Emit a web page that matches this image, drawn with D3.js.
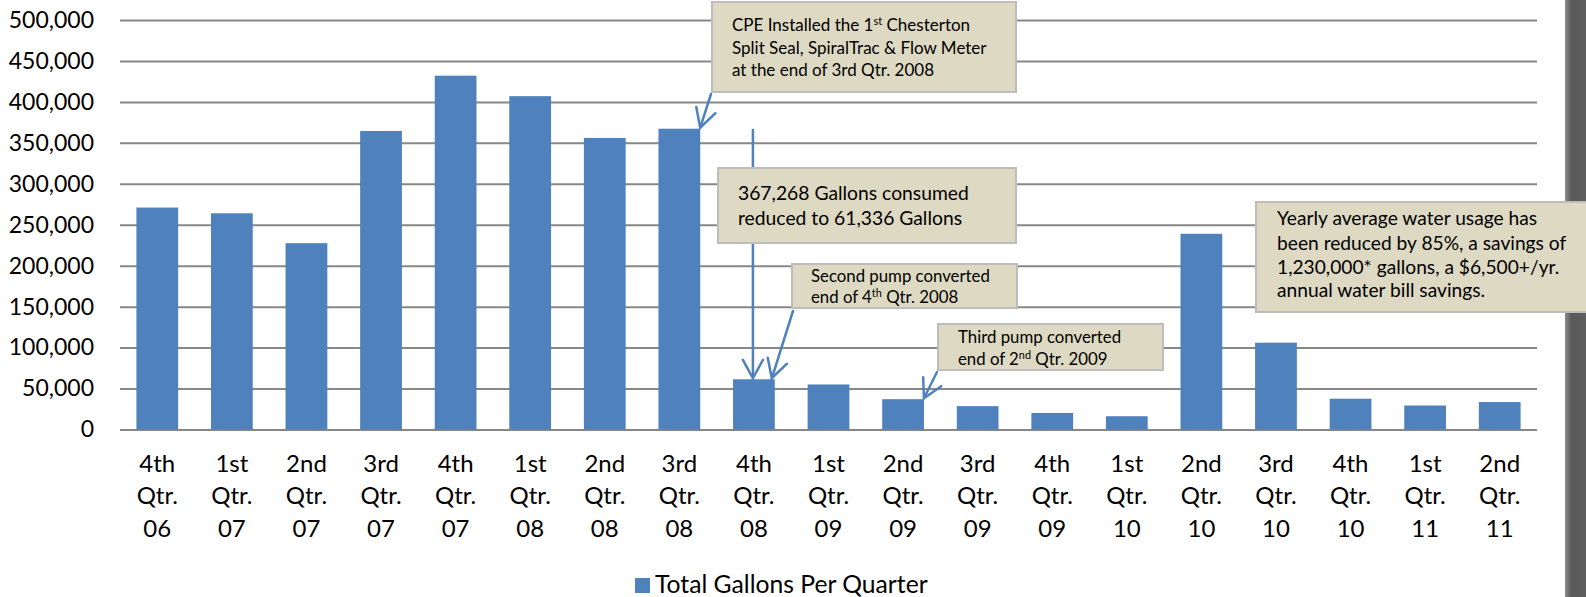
<!DOCTYPE html>
<html>
<head>
<meta charset="utf-8">
<script src="https://cdn.jsdelivr.net/npm/d3@7"></script>
<style>
  body { margin: 0; background: #fff; }
  svg { display: block; font-family: Lato, "Open Sans", sans-serif; }
</style>
</head>
<body>
<svg id="chart"></svg>
<script>
// Data
const quarters = [
  "4th Qtr. 06", "1st Qtr. 07", "2nd Qtr. 07", "3rd Qtr. 07", "4th Qtr. 07",
  "1st Qtr. 08", "2nd Qtr. 08", "3rd Qtr. 08", "4th Qtr. 08", "1st Qtr. 09",
  "2nd Qtr. 09", "3rd Qtr. 09", "4th Qtr. 09", "1st Qtr. 10", "2nd Qtr. 10",
  "3rd Qtr. 10", "4th Qtr. 10", "1st Qtr. 11", "2nd Qtr. 11"
];
const gallons = [
  271000, 264000, 227500, 364500, 432000,
  407000, 356000, 367268, 61336, 55000,
  37000, 28500, 20200, 16200, 239000,
  106000, 37600, 29300, 33500
];
const yTicks = [0, 50000, 100000, 150000, 200000, 250000, 300000, 350000, 400000, 450000, 500000];
const seriesName = "Total Gallons Per Quarter";

// Callout texts: each line is a list of [text, isSuperscript]
const noteInstalled = [
  [["CPE Installed the 1", false], ["st", true], [" Chesterton", false]],
  [["Split Seal, SpiralTrac & Flow Meter", false]],
  [["at the end of 3rd Qtr. 2008", false]]
];
const noteReduced = [
  [["367,268 Gallons consumed", false]],
  [["reduced to 61,336 Gallons", false]]
];
const noteSecond = [
  [["Second pump converted", false]],
  [["end of 4", false], ["th", true], [" Qtr. 2008", false]]
];
const noteThird = [
  [["Third pump converted", false]],
  [["end of 2", false], ["nd", true], [" Qtr. 2009", false]]
];
const noteSavings = [
  [["Yearly average water usage has", false]],
  [["been reduced by 85%, a savings of", false]],
  [["1,230,000* gallons, a $6,500+/yr.", false]],
  [["annual water bill savings.", false]]
];

const width = 1586;
const height = 597;
const plotLeft = 120, plotRight = 1537, plotTop = 20, plotBottom = 429.5;
const barColor = "#4F81BD";
const gridColor = "#878787";

const svg = d3.select("#chart")
  .attr("width", width)
  .attr("height", height);

// Scales
const xScale = d3.scaleBand()
  .domain(quarters)
  .range([plotLeft, plotRight])
  .paddingInner(0.44)
  .paddingOuter(0.22);

const yScale = d3.scaleLinear()
  .domain([0, 500000])
  .range([plotBottom, plotTop]);

// Dark strip on the right edge
const grad = svg.append("defs").append("linearGradient")
  .attr("id", "strip")
  .attr("x1", "0%").attr("x2", "100%");
grad.append("stop").attr("offset", "0%").attr("stop-color", "#8c8c8c");
grad.append("stop").attr("offset", "30%").attr("stop-color", "#595959");
grad.append("stop").attr("offset", "100%").attr("stop-color", "#5e5e5e");
svg.append("rect")
  .attr("x", 1565).attr("y", 0)
  .attr("width", 21).attr("height", height)
  .attr("fill", "url(#strip)");

// Y axis with gridlines
const yAxis = d3.axisLeft(yScale)
  .tickValues(yTicks)
  .tickSize(-(plotRight - plotLeft))
  .tickPadding(26)
  .tickFormat(d3.format(","));
const yG = svg.append("g")
  .attr("transform", `translate(${plotLeft},0)`)
  .call(yAxis);
yG.select(".domain").remove();
yG.selectAll(".tick line")
  .attr("stroke", gridColor)
  .attr("stroke-width", 2);
yG.selectAll(".tick text")
  .attr("font-family", "Lato, sans-serif")
  .attr("font-size", 23)
  .attr("fill", "#000");

// Bars
svg.selectAll(".bar")
  .data(gallons)
  .enter()
  .append("rect")
  .attr("class", "bar")
  .attr("x", (d, i) => xScale(quarters[i]))
  .attr("y", d => yScale(d))
  .attr("width", xScale.bandwidth())
  .attr("height", d => yScale(0) - yScale(d))
  .attr("fill", barColor);

// X axis labels (three lines each)
const xAxis = d3.axisBottom(xScale).tickSize(0).tickFormat("");
const xG = svg.append("g")
  .attr("transform", `translate(0,${plotBottom})`)
  .call(xAxis);
xG.select(".domain").remove();
xG.selectAll(".tick").each(function (d) {
  const t = d3.select(this).append("text")
    .attr("text-anchor", "middle")
    .attr("font-family", "Lato, sans-serif")
    .attr("font-size", 24)
    .attr("fill", "#000");
  d.split(" ").forEach((part, k) => {
    t.append("tspan")
      .attr("x", 0)
      .attr("y", 42 + k * 32.5)
      .text(part);
  });
});

// Vertical arrow down to the 4th Qtr. 08 bar (behind its callout)
const arrowLayer = svg.append("g")
  .attr("stroke", barColor)
  .attr("stroke-width", 2.5)
  .attr("fill", "none")
  .attr("stroke-linecap", "round");

function arrow(g, x1, y1, x2, y2) {
  g.append("line")
    .attr("x1", x1).attr("y1", y1)
    .attr("x2", x2).attr("y2", y2);
  const ang = Math.atan2(y2 - y1, x2 - x1);
  const len = 21, spread = 0.5;
  const pts = [ang + Math.PI - spread, ang + Math.PI + spread].map(a =>
    [x2 + len * Math.cos(a), y2 + len * Math.sin(a)]);
  g.append("path")
    .attr("d", `M${pts[0][0]},${pts[0][1]}L${x2},${y2}L${pts[1][0]},${pts[1][1]}`);
}

const q408 = "4th Qtr. 08";
arrow(arrowLayer,
  xScale(q408) + xScale.bandwidth() / 2 - 1, 130,
  xScale(q408) + xScale.bandwidth() / 2 - 1, yScale(gallons[8]) - 1);

// Callout boxes
function note(lines, box, tx, baselines, fs) {
  const g = svg.append("g");
  g.append("rect")
    .attr("x", box[0]).attr("y", box[1])
    .attr("width", box[2]).attr("height", box[3])
    .attr("fill", "#DDD9C3")
    .attr("stroke", "#BDBDBD")
    .attr("stroke-width", 2);
  lines.forEach((segs, i) => {
    const t = g.append("text")
      .attr("x", tx)
      .attr("y", baselines[i])
      .attr("font-family", "Lato, sans-serif")
      .attr("font-size", fs)
      .attr("fill", "#000");
    segs.forEach(([s, sup], j) => {
      const ts = t.append("tspan").text(s);
      if (sup) {
        ts.attr("font-size", fs * 0.65).attr("dy", -fs * 0.38);
      } else if (j > 0 && segs[j - 1][1]) {
        ts.attr("dy", fs * 0.38);
      }
    });
  });
}

note(noteInstalled, [712, 2, 304, 90], 732, [31, 53.5, 76], 17);
note(noteReduced, [718, 168, 298, 75], 738, [200, 225], 19.3);
note(noteSecond, [792, 264, 225, 44], 811, [282, 303], 16.8);
note(noteThird, [938, 324, 225, 46], 958, [343, 365], 16.8);
note(noteSavings, [1256, 202, 345, 110], 1277, [225, 250, 274, 297], 19.2);

// Arrows from callouts to the bars they mark
const topLayer = svg.append("g")
  .attr("stroke", barColor)
  .attr("stroke-width", 2.5)
  .attr("fill", "none")
  .attr("stroke-linecap", "round");
const barRight = q => xScale(q) + xScale.bandwidth();
arrow(topLayer, 711, 94, barRight("3rd Qtr. 08"), yScale(gallons[7]) - 1);
arrow(topLayer, 793, 311, barRight(q408) - 3, yScale(gallons[8]) - 1);
arrow(topLayer, 937, 372, barRight("2nd Qtr. 09"), yScale(gallons[10]) - 1);

// Legend
const legend = svg.append("g").attr("transform", "translate(635,578)");
legend.append("rect")
  .attr("width", 15).attr("height", 15)
  .attr("fill", barColor);
legend.append("text")
  .attr("x", 20).attr("y", 14.5)
  .attr("font-family", "Lato, sans-serif")
  .attr("font-size", 24.7)
  .attr("fill", "#000")
  .text(seriesName);
</script>
</body>
</html>
